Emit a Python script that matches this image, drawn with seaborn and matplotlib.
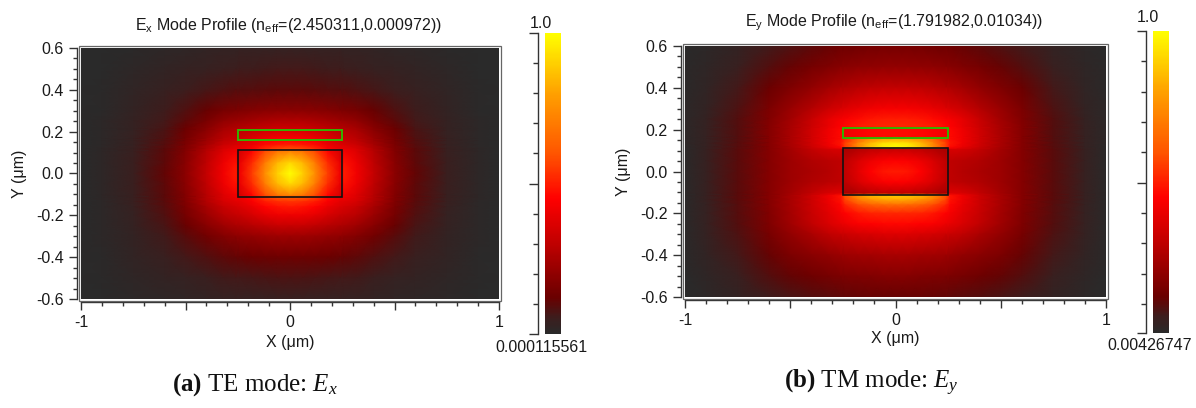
import numpy as np
import matplotlib
matplotlib.use("Agg")
import matplotlib.pyplot as plt
import seaborn as sns
from matplotlib.colors import LinearSegmentedColormap
from matplotlib.patches import Rectangle
from matplotlib.ticker import MultipleLocator, FuncFormatter

# ---------------- data ----------------
# sample positions (um); x given for x >= 0, field is mirror-symmetric in x
x_half = [0, 0.06, 0.12, 0.18, 0.24, 0.26, 0.32, 0.4, 0.5, 0.6, 0.75, 0.9, 1.0]
y_nodes = [0.6, 0.5, 0.4, 0.3, 0.25, 0.215, 0.205, 0.165, 0.155, 0.135, 0.115,
           0.105, 0.05, 0, -0.05, -0.105, -0.115, -0.135, -0.16, -0.2, -0.25,
           -0.3, -0.4, -0.5, -0.6]

# normalised |Ex| of the TE mode (rows follow y_nodes, columns follow x_half)
te_ex = [
    [0.035, 0.035, 0.034, 0.033, 0.032, 0.031, 0.029, 0.024, 0.018, 0.013, 0.007, 0.002, 0.001],
    [0.064, 0.063, 0.061, 0.058, 0.055, 0.054, 0.05, 0.042, 0.033, 0.024, 0.013, 0.004, 0.002],
    [0.1, 0.1, 0.097, 0.093, 0.088, 0.087, 0.08, 0.068, 0.053, 0.04, 0.021, 0.006, 0.002],
    [0.19, 0.19, 0.185, 0.178, 0.168, 0.163, 0.15, 0.12, 0.085, 0.056, 0.028, 0.007, 0.003],
    [0.27, 0.27, 0.26, 0.245, 0.23, 0.225, 0.205, 0.155, 0.105, 0.066, 0.032, 0.008, 0.003],
    [0.33, 0.33, 0.315, 0.295, 0.275, 0.27, 0.245, 0.185, 0.125, 0.074, 0.035, 0.009, 0.003],
    [0.35, 0.35, 0.335, 0.31, 0.285, 0.28, 0.255, 0.19, 0.13, 0.076, 0.036, 0.009, 0.003],
    [0.44, 0.43, 0.41, 0.37, 0.33, 0.32, 0.29, 0.225, 0.145, 0.085, 0.04, 0.01, 0.004],
    [0.46, 0.45, 0.43, 0.38, 0.34, 0.33, 0.3, 0.23, 0.15, 0.088, 0.041, 0.011, 0.004],
    [0.51, 0.5, 0.47, 0.41, 0.37, 0.36, 0.33, 0.25, 0.16, 0.093, 0.043, 0.011, 0.004],
    [0.6, 0.58, 0.53, 0.45, 0.4, 0.4, 0.36, 0.27, 0.17, 0.1, 0.045, 0.012, 0.004],
    [0.72, 0.68, 0.58, 0.46, 0.35, 0.42, 0.37, 0.28, 0.175, 0.1, 0.045, 0.012, 0.004],
    [0.92, 0.85, 0.7, 0.53, 0.4, 0.48, 0.41, 0.3, 0.185, 0.105, 0.047, 0.012, 0.004],
    [1.0, 0.9, 0.75, 0.56, 0.42, 0.5, 0.42, 0.31, 0.19, 0.11, 0.048, 0.012, 0.004],
    [0.92, 0.85, 0.7, 0.53, 0.4, 0.48, 0.41, 0.3, 0.185, 0.105, 0.047, 0.012, 0.004],
    [0.72, 0.68, 0.58, 0.46, 0.35, 0.42, 0.37, 0.28, 0.175, 0.1, 0.045, 0.012, 0.004],
    [0.62, 0.6, 0.55, 0.46, 0.41, 0.41, 0.37, 0.28, 0.175, 0.1, 0.045, 0.012, 0.004],
    [0.54, 0.53, 0.5, 0.44, 0.39, 0.38, 0.35, 0.27, 0.17, 0.097, 0.044, 0.011, 0.004],
    [0.49, 0.48, 0.45, 0.4, 0.36, 0.35, 0.32, 0.25, 0.16, 0.092, 0.042, 0.011, 0.004],
    [0.41, 0.41, 0.39, 0.355, 0.32, 0.31, 0.285, 0.22, 0.145, 0.083, 0.039, 0.01, 0.003],
    [0.32, 0.32, 0.3, 0.28, 0.26, 0.255, 0.23, 0.18, 0.12, 0.071, 0.035, 0.009, 0.003],
    [0.23, 0.23, 0.22, 0.21, 0.2, 0.195, 0.175, 0.14, 0.097, 0.061, 0.031, 0.008, 0.003],
    [0.13, 0.13, 0.127, 0.122, 0.115, 0.112, 0.104, 0.085, 0.063, 0.044, 0.024, 0.007, 0.002],
    [0.075, 0.075, 0.073, 0.07, 0.066, 0.065, 0.06, 0.05, 0.039, 0.028, 0.016, 0.005, 0.002],
    [0.04, 0.04, 0.039, 0.038, 0.036, 0.035, 0.033, 0.028, 0.022, 0.016, 0.009, 0.003, 0.001],
]

# normalised |Ey| of the TM mode
tm_ey = [
    [0.15, 0.15, 0.145, 0.14, 0.135, 0.13, 0.12, 0.105, 0.085, 0.065, 0.035, 0.013, 0.006],
    [0.21, 0.21, 0.205, 0.2, 0.19, 0.185, 0.17, 0.15, 0.12, 0.09, 0.05, 0.02, 0.009],
    [0.31, 0.31, 0.3, 0.29, 0.27, 0.265, 0.245, 0.21, 0.17, 0.125, 0.07, 0.026, 0.011],
    [0.43, 0.43, 0.42, 0.4, 0.37, 0.36, 0.33, 0.28, 0.22, 0.16, 0.085, 0.034, 0.013],
    [0.5, 0.5, 0.49, 0.47, 0.44, 0.43, 0.39, 0.32, 0.24, 0.175, 0.09, 0.038, 0.014],
    [0.52, 0.52, 0.51, 0.5, 0.47, 0.45, 0.4, 0.33, 0.25, 0.18, 0.092, 0.04, 0.014],
    [0.47, 0.47, 0.46, 0.44, 0.42, 0.46, 0.41, 0.335, 0.25, 0.18, 0.092, 0.04, 0.014],
    [0.47, 0.47, 0.46, 0.44, 0.42, 0.47, 0.42, 0.34, 0.255, 0.18, 0.093, 0.04, 0.014],
    [0.82, 0.8, 0.74, 0.64, 0.52, 0.47, 0.42, 0.34, 0.255, 0.18, 0.093, 0.04, 0.014],
    [0.95, 0.93, 0.85, 0.72, 0.56, 0.49, 0.42, 0.34, 0.255, 0.18, 0.095, 0.042, 0.013],
    [1.0, 0.97, 0.88, 0.74, 0.56, 0.46, 0.4, 0.33, 0.25, 0.18, 0.097, 0.043, 0.012],
    [0.32, 0.32, 0.3, 0.28, 0.25, 0.36, 0.35, 0.31, 0.245, 0.18, 0.098, 0.044, 0.012],
    [0.45, 0.44, 0.41, 0.36, 0.3, 0.3, 0.29, 0.27, 0.23, 0.18, 0.1, 0.045, 0.012],
    [0.5, 0.49, 0.45, 0.38, 0.31, 0.3, 0.28, 0.26, 0.23, 0.18, 0.1, 0.045, 0.012],
    [0.45, 0.44, 0.41, 0.36, 0.3, 0.3, 0.29, 0.27, 0.23, 0.18, 0.1, 0.045, 0.012],
    [0.3, 0.3, 0.29, 0.27, 0.25, 0.38, 0.36, 0.31, 0.245, 0.18, 0.098, 0.044, 0.012],
    [0.9, 0.88, 0.85, 0.76, 0.6, 0.48, 0.41, 0.33, 0.25, 0.18, 0.098, 0.044, 0.012],
    [0.82, 0.81, 0.77, 0.7, 0.57, 0.48, 0.41, 0.33, 0.25, 0.18, 0.098, 0.044, 0.012],
    [0.66, 0.65, 0.63, 0.58, 0.51, 0.46, 0.4, 0.33, 0.25, 0.18, 0.097, 0.043, 0.012],
    [0.52, 0.52, 0.51, 0.49, 0.45, 0.43, 0.38, 0.32, 0.245, 0.175, 0.095, 0.042, 0.012],
    [0.46, 0.46, 0.45, 0.44, 0.41, 0.4, 0.36, 0.305, 0.235, 0.17, 0.092, 0.04, 0.012],
    [0.37, 0.37, 0.36, 0.35, 0.33, 0.325, 0.3, 0.26, 0.21, 0.155, 0.085, 0.036, 0.011],
    [0.25, 0.25, 0.245, 0.24, 0.23, 0.225, 0.21, 0.19, 0.16, 0.12, 0.068, 0.028, 0.01],
    [0.18, 0.18, 0.175, 0.17, 0.165, 0.16, 0.15, 0.135, 0.115, 0.09, 0.05, 0.02, 0.008],
    [0.12, 0.12, 0.118, 0.115, 0.11, 0.108, 0.1, 0.09, 0.077, 0.06, 0.034, 0.013, 0.006],
]

te_range = [0.000115561, 1.0]
tm_range = [0.00426747, 1.0]
range_labels_te = ["1.0", "0.000115561"]
range_labels_tm = ["1.0", "0.00426747"]
titles = [r"E$_\mathregular{x}$ Mode Profile (n$_\mathregular{eff}$=(2.450311,0.000972))",
          r"E$_\mathregular{y}$ Mode Profile (n$_\mathregular{eff}$=(1.791982,0.01034))"]
captions = [r"$\mathbf{(a)}$ TE mode: $E_x$", r"$\mathbf{(b)}$ TM mode: $E_y$"]
core_rect = [-0.25, -0.11, 0.5, 0.22]    # x, y, width, height (um)
slot_rect = [-0.25, 0.16, 0.5, 0.05]

cmap_stops = [0.0, 0.05, 0.12, 0.3, 0.45, 0.6, 0.8, 1.0]
cmap_colors = ["#2a2a2a", "#3b1e1e", "#6a0000", "#c00000", "#ff0000",
               "#ff5500", "#ffa000", "#ffff00"]

# ---------------- style ----------------
sns.set_theme(style="white")
plt.rcParams["font.family"] = ["Liberation Sans", "DejaVu Sans"]
plt.rcParams["axes.unicode_minus"] = False
plt.rcParams["mathtext.fontset"] = "custom"
plt.rcParams["mathtext.rm"] = "Liberation Serif"
plt.rcParams["mathtext.it"] = "Liberation Serif:italic"
plt.rcParams["mathtext.bf"] = "Liberation Serif:bold"

W, H = 1196, 408
fig = plt.figure(figsize=(W / 100, H / 100), dpi=100)
fig.patch.set_facecolor("white")

cmap = LinearSegmentedColormap.from_list("mode", list(zip(cmap_stops, cmap_colors)))


def fpos(x0, y0, x1, y1):
    return [x0 / W, 1 - y1 / H, (x1 - x0) / W, (y1 - y0) / H]


def mirror(row):
    row = list(row)
    return row[:0:-1] + row


x_full = [-v for v in x_half[:0:-1]] + list(x_half)
XX, YY = np.meshgrid(np.array(x_full), np.array(y_nodes))

panels = [
    dict(field=te_ex, rng=te_range, lab=range_labels_te, title=titles[0], cap=captions[0],
         ax=(81, 48, 499, 299), cax=(545, 33, 561, 334), xlab_y=-0.145,
         top_lab=(541, 23), bot_lab=(541.5, 348), title_xy=(288, 30), cap_xy=(255, 385)),
    dict(field=tm_ey, rng=tm_range, lab=range_labels_tm, title=titles[1], cap=captions[1],
         ax=(685, 46, 1106, 297), cax=(1153, 31, 1169, 333), xlab_y=-0.135,
         top_lab=(1148, 18), bot_lab=(1150, 345), title_xy=(894, 27), cap_xy=(871, 383)),
]

txt_col = "#1a1a1a"
fs = 11.5

for p in panels:
    ax = fig.add_axes(fpos(*p["ax"]))
    Z = np.array([mirror(r) for r in p["field"]])
    m = ax.pcolormesh(XX, YY, Z, shading="gouraud", cmap=cmap,
                      vmin=p["rng"][0], vmax=p["rng"][1])
    ax.add_patch(Rectangle((core_rect[0], core_rect[1]), core_rect[2], core_rect[3],
                           fill=False, edgecolor="#111111", lw=1.2))
    ax.add_patch(Rectangle((slot_rect[0], slot_rect[1]), slot_rect[2], slot_rect[3],
                           fill=False, edgecolor="#33b300", lw=1.4))
    ax.set_xlim(-1, 1)
    ax.set_ylim(-0.6, 0.6)

    for s in ["top", "right"]:
        ax.spines[s].set_visible(False)
    ax.spines["left"].set_position(("outward", 3))
    ax.spines["bottom"].set_position(("outward", 2))
    for s in ["left", "bottom"]:
        ax.spines[s].set_color("#333333")
        ax.spines[s].set_linewidth(1.0)

    ax.xaxis.set_major_locator(MultipleLocator(0.5))
    ax.xaxis.set_minor_locator(MultipleLocator(0.1))
    ax.xaxis.set_major_formatter(FuncFormatter(
        lambda v, pos: ("%d" % round(v)) if abs(v - round(v)) < 1e-6 else ""))
    ax.yaxis.set_major_locator(MultipleLocator(0.2))
    ax.yaxis.set_minor_locator(MultipleLocator(0.05))
    ax.yaxis.set_major_formatter(FuncFormatter(lambda v, pos: "%.1f" % (0.0 if abs(v) < 1e-9 else v)))
    ax.tick_params(which="major", direction="out", length=5.5, width=1.0, color="#333333",
                   labelsize=fs, labelcolor=txt_col, pad=4, left=True, bottom=True)
    ax.tick_params(which="minor", direction="out", length=3.2, width=1.0, color="#333333",
                   left=True, bottom=True)

    ax.set_xlabel("X (μm)", fontsize=fs, color=txt_col)
    ax.set_ylabel("Y (μm)", fontsize=fs, color=txt_col)
    ax.xaxis.set_label_coords(0.5, p["xlab_y"])
    ax.yaxis.set_label_coords(-0.128, 0.5)

    # thin frame around the image
    x0, y0, x1, y1 = p["ax"]
    fig.add_artist(Rectangle(((x0 - 2) / W, 1 - (y1 + 1.5) / H), (x1 - x0 + 4) / W,
                             (y1 - y0 + 3.5) / H, transform=fig.transFigure,
                             fill=False, edgecolor="#666666", lw=0.9))

    fig.text(p["title_xy"][0] / W, 1 - p["title_xy"][1] / H, p["title"], ha="center",
             va="baseline", fontsize=fs, color=txt_col)

    cax = fig.add_axes(fpos(*p["cax"]))
    cb = fig.colorbar(m, cax=cax, ticklocation="left")
    cb.outline.set_visible(False)
    cb.set_ticks([p["rng"][0], 0.5, p["rng"][1]])
    cax.yaxis.set_minor_locator(MultipleLocator(0.1))
    cax.tick_params(which="major", length=6.5, width=1.0, color="#333333",
                    labelleft=False, labelright=False)
    cax.tick_params(which="minor", length=3.5, width=1.0, color="#333333")
    cax.spines["left"].set_visible(True)
    cax.spines["left"].set_position(("outward", 5))
    cax.spines["left"].set_color("#333333")
    cax.spines["left"].set_linewidth(1.0)

    fig.text(p["top_lab"][0] / W, 1 - p["top_lab"][1] / H, p["lab"][0], ha="center",
             va="center", fontsize=fs, color=txt_col)
    fig.text(p["bot_lab"][0] / W, 1 - p["bot_lab"][1] / H, p["lab"][1], ha="center",
             va="center", fontsize=fs, color=txt_col)

    fig.text(p["cap_xy"][0] / W, 1 - p["cap_xy"][1] / H, p["cap"], ha="center",
             va="center", fontsize=18, family="Liberation Serif", color="#111111")

fig.savefig("out.png", dpi=100, facecolor="white")
